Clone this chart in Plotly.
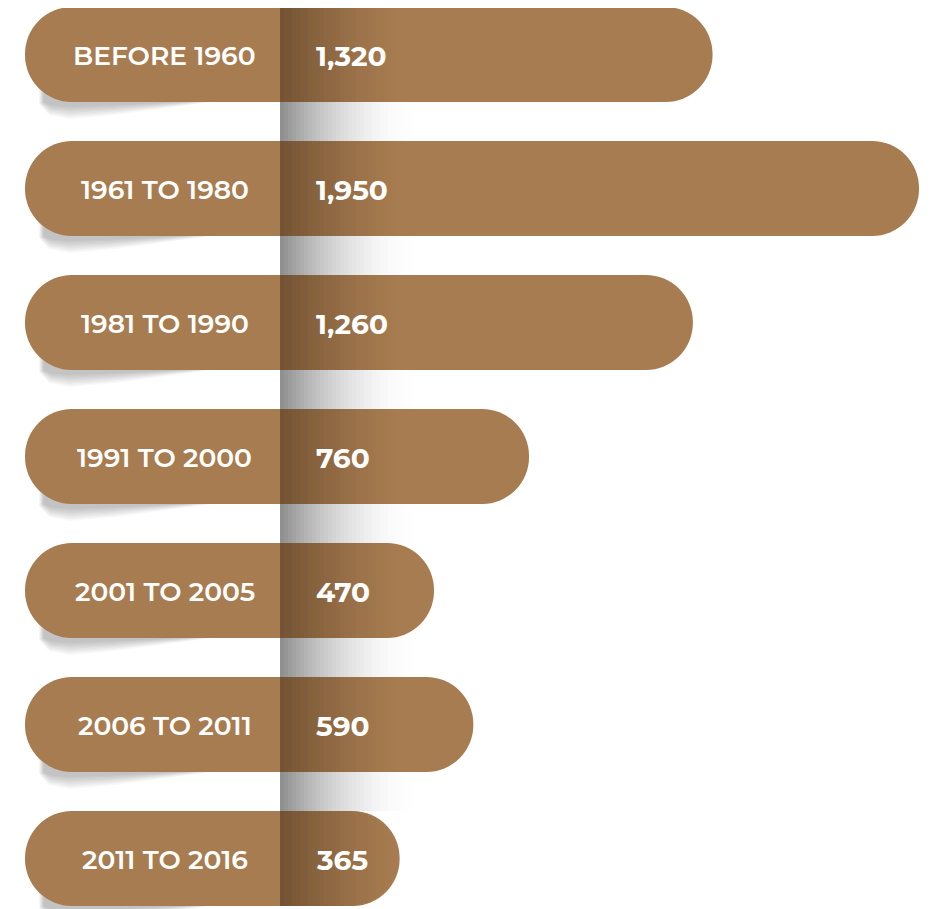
import plotly.graph_objects as go

# ---------------- data ----------------
categories = ["BEFORE 1960", "1961 TO 1980", "1981 TO 1990", "1991 TO 2000",
              "2001 TO 2005", "2006 TO 2011", "2011 TO 2016"]
values = [1320, 1950, 1260, 760, 470, 590, 365]
value_labels = ["1,320", "1,950", "1,260", "760", "470", "590", "365"]

# ---------------- layout constants (screen pixels) ----------------
W, H = 937, 909
PAGE_OFF = 8          # default page margin of the html body
DIV_PX = 280          # divider between label pill and value bar
END_PX = 919          # right end of the largest bar
LEFT_PX = 25          # left end of label pills
ROW_PX = 134          # distance between row centres
TOP_CENTER_PX = 54.5  # centre of the first row
BAR_PX = 95           # bar thickness
RADIUS = BAR_PX / 2
BROWN = "#A77C50"
FONT = "Montserrat, Lato, Open Sans, sans-serif"

n = len(categories)
ppu = (END_PX - DIV_PX) / max(values)   # pixels per value unit


def px2x(p):
    # screen px -> data x
    return (p - DIV_PX) / ppu


y_top = -(TOP_CENTER_PX - PAGE_OFF) / ROW_PX
y_bot = y_top + H / ROW_PX
bar_w = BAR_PX / ROW_PX
ypos = list(range(n))


def py2y(p):
    # screen px -> data y
    return y_top + (p - PAGE_OFF) / ROW_PX


fig = go.Figure()

# label pills (extend to the left from the divider, rounded on the left end)
fig.add_trace(go.Bar(
    y=ypos, x=[px2x(LEFT_PX)] * n, orientation="h", width=bar_w,
    marker=dict(color=BROWN, cornerradius="50%", line=dict(width=0)),
    hoverinfo="skip", showlegend=False,
))
# value bars
fig.add_trace(go.Bar(
    y=ypos, x=values, orientation="h", width=bar_w,
    marker=dict(color=BROWN, cornerradius="50%", line=dict(width=0)),
    customdata=categories,
    hovertemplate="%{customdata}: %{x:,}<extra></extra>",
    showlegend=False,
))

shapes = []

# grey gradient strip behind the bars, visible in the gaps
G_SPAN, G_N = 140, 35
for k in range(G_N):
    d0 = k * G_SPAN / G_N
    d1 = (k + 1) * G_SPAN / G_N
    a = 0.45 * (1 - (d0 + d1) / 2 / G_SPAN) ** 2
    shapes.append(dict(
        type="rect", layer="below", xref="x", yref="y",
        x0=px2x(DIV_PX + d0), x1=px2x(DIV_PX + d1),
        y0=0 + bar_w / 2, y1=(n - 1) - bar_w / 2,
        fillcolor=f"rgba(0,0,0,{a:.4f})", line=dict(width=0),
    ))

# soft shadow under the bottom-left of each label pill
shadow_pts = [(14, -30), (14, 2), (24, 13), (45, 17), (90, 13), (150, 5), (188, 0), (120, -10)]
N_SH = 9
for i in range(n):
    bottom_px = TOP_CENTER_PX + i * ROW_PX + BAR_PX / 2
    for j in range(N_SH):
        s = 1.0 - j * 0.09
        pts = [(LEFT_PX + dx * (0.75 + 0.25 * s) + (1 - s) * 10, bottom_px + dy * s)
               for dx, dy in shadow_pts]
        path = "M " + " L ".join(f"{px2x(px):.3f},{py2y(py):.4f}" for px, py in pts) + " Z"
        shapes.append(dict(
            type="path", layer="below", xref="x", yref="y", path=path,
            fillcolor="rgba(0,0,0,0.028)", line=dict(width=0),
        ))

# dark gradient on the value bars next to the divider
D_SPAN, D_N = 120, 30
for i, v in enumerate(values):
    end_px = DIV_PX + v * ppu
    cx = end_px - RADIUS
    for k in range(D_N):
        d0 = k * D_SPAN / D_N
        d1 = (k + 1) * D_SPAN / D_N
        p1 = min(DIV_PX + d1, end_px)
        p0 = DIV_PX + d0
        if p0 >= end_px:
            break
        half = RADIUS
        if p1 > cx:
            dx = p1 - cx
            half = max(RADIUS ** 2 - dx ** 2, 0) ** 0.5
        a = 0.38 * (1 - (d0 + d1) / 2 / D_SPAN) ** 1.4
        shapes.append(dict(
            type="rect", layer="above", xref="x", yref="y",
            x0=px2x(p0), x1=px2x(p1),
            y0=i - half / ROW_PX, y1=i + half / ROW_PX,
            fillcolor=f"rgba(30,15,5,{a:.4f})", line=dict(width=0),
        ))

annotations = []
for i in range(n):
    annotations.append(dict(
        x=px2x(164.5), y=i, xref="x", yref="y", text=categories[i],
        showarrow=False, xanchor="center", yanchor="middle", yshift=-1,
        font=dict(family=FONT, size=26.5, color="white", weight=600),
    ))
    annotations.append(dict(
        x=px2x(314), y=i, xref="x", yref="y", text=value_labels[i],
        showarrow=False, xanchor="left", yanchor="middle", yshift=-1,
        font=dict(family=FONT, size=28, color="white", weight=700),
    ))

fig.update_layout(
    width=W, height=H,
    margin=dict(l=0, r=0, t=0, b=0),
    paper_bgcolor="white", plot_bgcolor="white",
    barmode="overlay",
    xaxis=dict(range=[px2x(PAGE_OFF), px2x(PAGE_OFF + W)], visible=False, fixedrange=True),
    yaxis=dict(range=[y_bot, y_top], visible=False, fixedrange=True),
    shapes=shapes, annotations=annotations,
    showlegend=False,
)

fig.write_html("out.html")
